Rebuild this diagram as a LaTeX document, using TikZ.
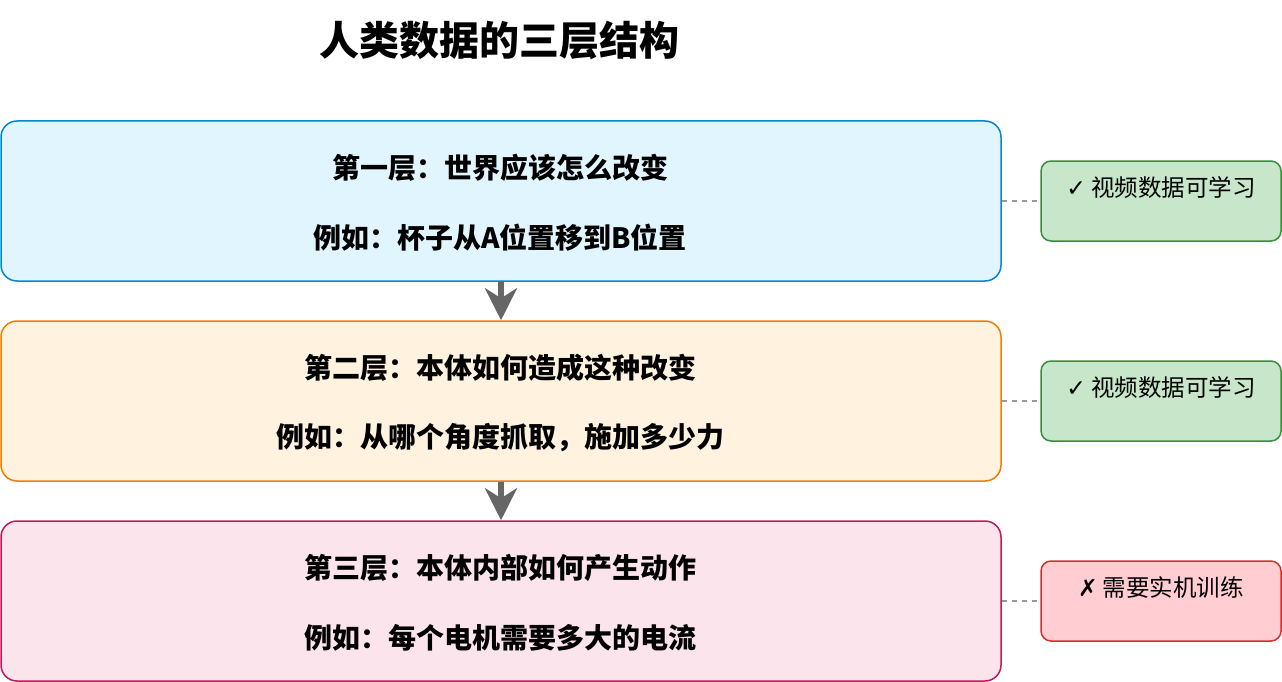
\documentclass[tikz,border=0pt]{standalone}
\usepackage{fontspec}
\setmainfont{Noto Sans CJK SC}
\newfontfamily\cjk{Noto Sans CJK SC}
\newfontfamily\sym{DejaVu Sans}
\usetikzlibrary{arrows.meta}
\definecolor{b1f}{HTML}{E1F5FE}\definecolor{b1d}{HTML}{0288D1}
\definecolor{b2f}{HTML}{FFF3E0}\definecolor{b2d}{HTML}{F57C00}
\definecolor{b3f}{HTML}{FCE4EC}\definecolor{b3d}{HTML}{C2185B}
\definecolor{gf}{HTML}{C8E6C9}\definecolor{gd}{HTML}{388E3C}
\definecolor{rf}{HTML}{FFCDD2}\definecolor{rd}{HTML}{D32F2F}
\definecolor{arr}{HTML}{666666}
\definecolor{dsh}{HTML}{999999}
\tikzset{
  layer/.style={draw, line width=1.5pt, rounded corners=16pt, minimum width=1000pt, minimum height=160pt, inner sep=0pt},
  side/.style={draw, line width=1.5pt, rounded corners=10pt, minimum width=240pt, minimum height=80pt, inner sep=0pt},
  maintxt/.style={font=\cjk\bfseries\fontsize{28}{32}\selectfont, inner sep=0pt},
  sidetxt/.style={font=\cjk\fontsize{23.5}{28}\selectfont, inner sep=0pt},
  flow/.style={draw=arr, line width=6pt, -{Stealth[length=32pt, width=32pt, inset=10pt]}},
  link/.style={draw=dsh, line width=1.3pt, dash pattern=on 5pt off 5pt},
}
\begin{document}
\begin{tikzpicture}[x=1pt,y=-1pt]
\useasboundingbox (0,0) rectangle (1282,682);
\node[font=\cjk\bfseries\fontsize{40}{44}\selectfont, inner sep=0pt] (title) at (499,40) {人类数据的三层结构};

\node[layer, fill=b1f, draw=b1d] (L1) at (501,201) {};
\node[layer, fill=b2f, draw=b2d] (L2) at (501,401) {};
\node[layer, fill=b3f, draw=b3d] (L3) at (501,601) {};

\node[maintxt] (t1a) at (500,168) {第一层：世界应该怎么改变};
\node[maintxt] (t1b) at (500,238) {例如：杯子从A位置移到B位置};
\node[maintxt] (t2a) at (500,368) {第二层：本体如何造成这种改变};
\node[maintxt] (t2b) at (500,438) {例如：从哪个角度抓取，施加多少力};
\node[maintxt] (t3a) at (500,568) {第三层：本体内部如何产生动作};
\node[maintxt] (t3b) at (500,638) {例如：每个电机需要多大的电流};

\node[side, fill=gf, draw=gd] (S1) at (1161,201) {};
\node[side, fill=gf, draw=gd] (S2) at (1161,401) {};
\node[side, fill=rf, draw=rd] (S3) at (1161,601) {};
\node[sidetxt] (s1) at (1161,187) {{\sym ✓} 视频数据可学习};
\node[sidetxt] (s2) at (1161,387) {{\sym ✓} 视频数据可学习};
\node[sidetxt] (s3) at (1161,587) {{\sym\bfseries ✗} 需要实机训练};

\draw[flow] (L1.south) -- (L2.north);
\draw[flow] (L2.south) -- (L3.north);
\draw[link] (L1.east) -- (S1.west);
\draw[link] (L2.east) -- (S2.west);
\draw[link] (L3.east) -- (S3.west);
\end{tikzpicture}
\end{document}
